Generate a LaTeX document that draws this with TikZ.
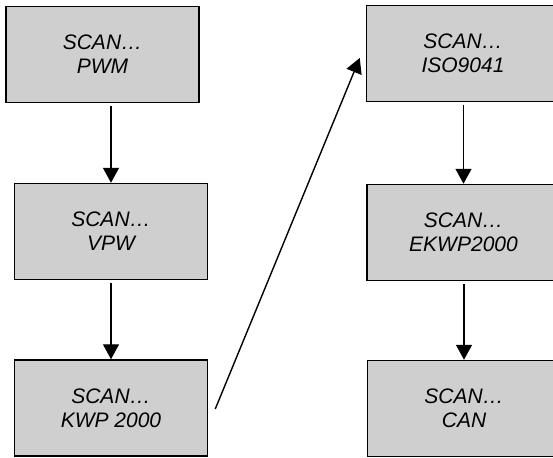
\documentclass[tikz,border=0pt]{standalone}
\usepackage{fontspec}
\setmainfont{Liberation Sans}
\usetikzlibrary{arrows.meta}
\tikzset{
  scanbox/.style={draw=black, line width=1.5pt, fill=boxgray, minimum width=193pt, minimum height=96pt,
    inner sep=0pt, align=center, font=\fontsize{21}{24}\selectfont\itshape},
  conn/.style={line width=1.4pt, -{Triangle[width=16pt,length=15pt]}, shorten <=3pt}
}
\definecolor{boxgray}{HTML}{CFCFCF}
\begin{document}
\begin{tikzpicture}[x=1pt,y=-1pt]
\useasboundingbox (0,0) rectangle (553,457);
\clip (0,0) rectangle (553,457);
\node[scanbox] (pwm)  at (102.5,54.5) {SCAN…\\PWM};
\node[scanbox] (vpw)  at (111,231.5) {SCAN…\\VPW};
\node[scanbox] (kwp)  at (111,408) {SCAN…\\KWP 2000};
\node[scanbox] (iso)  at (463,53.5) {SCAN…\\ISO9041};
\node[scanbox] (ekwp) at (463.5,232.5) {SCAN…\\EKWP2000};
\node[scanbox] (can)  at (464,408.5) {SCAN…\\CAN};
\coordinate (dstart) at ([xshift=7pt,yshift=-1pt]kwp.east);
\coordinate (dend) at ([xshift=-6pt,yshift=-4.5pt]iso.west);
\draw[conn] (vpw.north |- pwm.south) -- (vpw.north);
\draw[conn] (kwp.north |- vpw.south) -- (kwp.north);
\draw[conn, shorten <=0pt] (dstart) -- (dend);
\draw[conn] (ekwp.north |- iso.south) -- (ekwp.north);
\draw[conn] (can.north |- ekwp.south) -- (can.north);
\end{tikzpicture}
\end{document}
